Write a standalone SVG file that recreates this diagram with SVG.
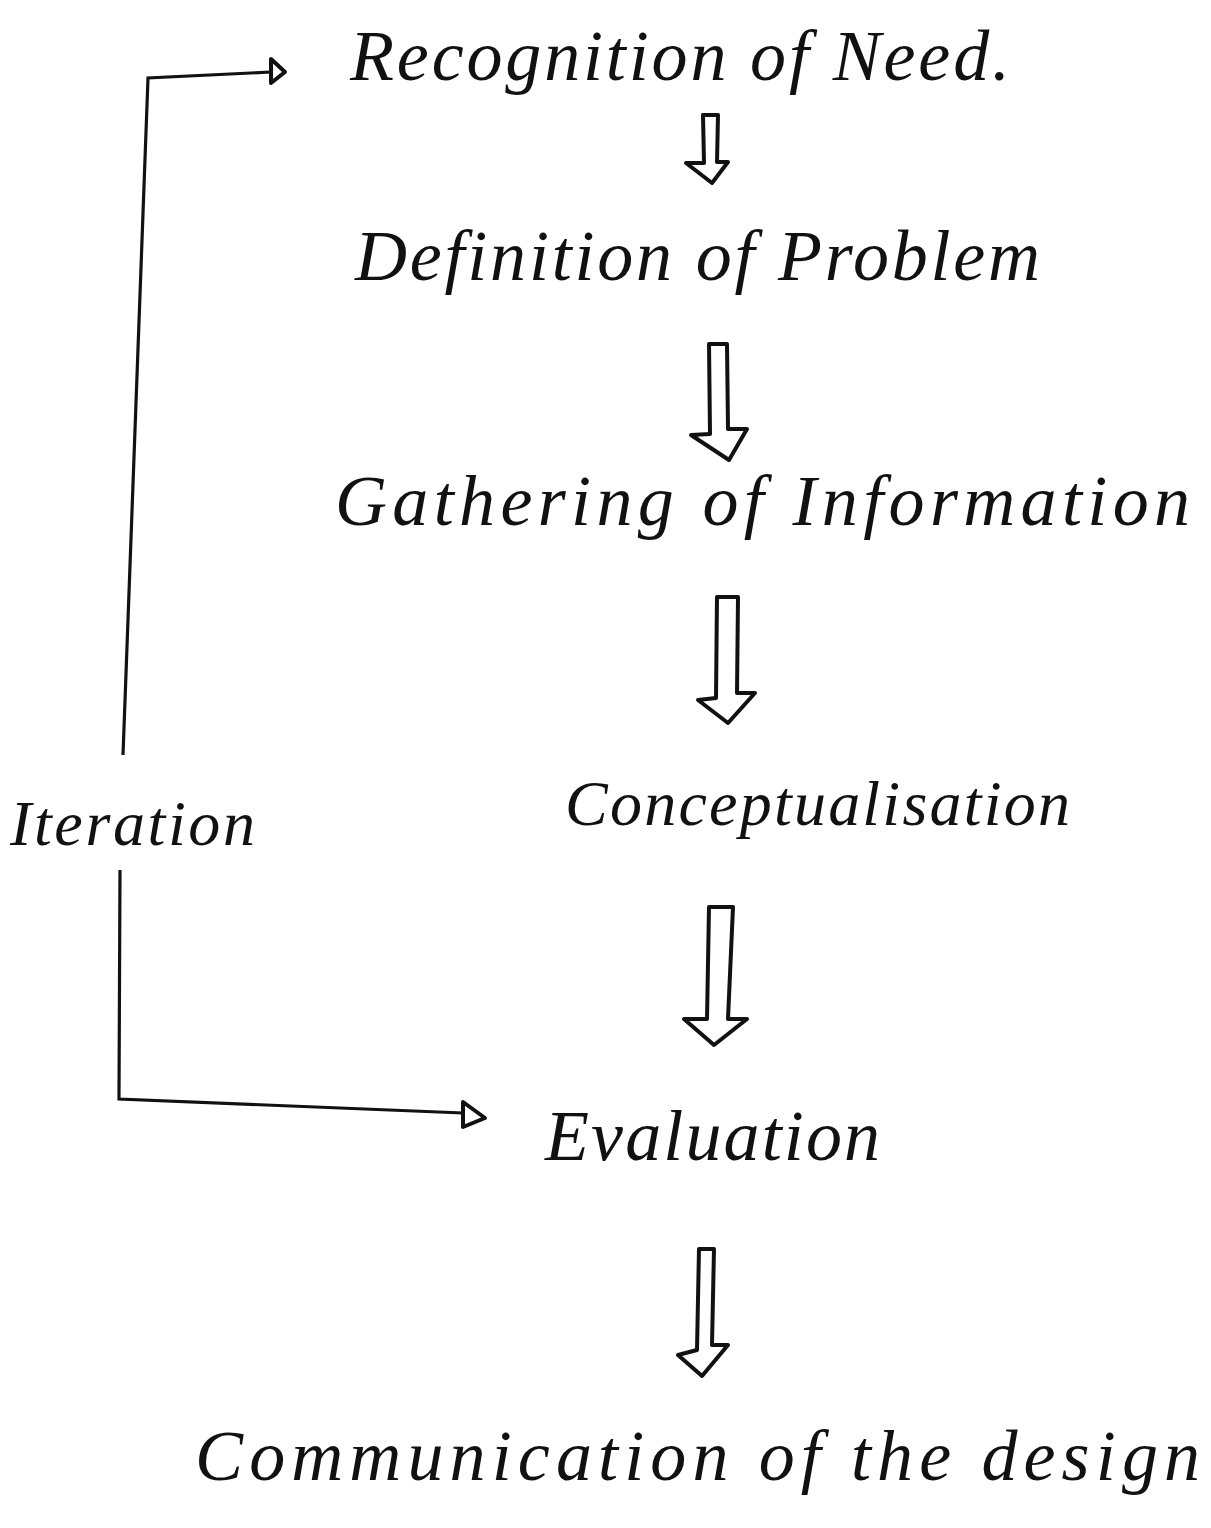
<svg xmlns="http://www.w3.org/2000/svg" width="1211" height="1528" viewBox="0 0 1211 1528">
<style>
.t{font-family:"Liberation Serif","DejaVu Serif",serif;font-style:italic;font-size:72px;fill:#111}
.s{font-size:64px}
.blk{fill:#fff;stroke:#111;stroke-width:4;stroke-linejoin:round}
.ln{fill:none;stroke:#111;stroke-width:3.2}
.hd{fill:#fff;stroke:#111;stroke-width:4;stroke-linejoin:round}
</style>
<rect width="1211" height="1528" fill="#fff"/>
<g id="connectors">
<path class="blk" d="M703 115 L718 115 L717 162 L728 162 L712 183 L686 163 L704 163 Z"/>
<path class="blk" d="M709 344 L727 344 L728 429 L747 429 L729 460 L691 435 L710 434 Z"/>
<path class="blk" d="M717 597 L738 597 L737 693 L755 693 L728 723 L698 700 L716 698 Z"/>
<path class="blk" d="M709 907 L733 907 L728 1019 L747 1019 L714 1045 L684 1019 L707 1019 Z"/>
<path class="blk" d="M699 1249 L714 1249 L712 1345 L728 1345 L702 1376 L678 1355 L697 1350 Z"/>
<path class="ln" d="M123 755 L148 78 L271 72"/>
<path class="hd" d="M271 59 L285 72 L271 83 Z"/>
<path class="ln" d="M120 870 L119 1099 L463 1113"/>
<path class="hd" d="M463 1102 L485 1118 L463 1127 Z"/>
</g>
<g id="recognition"><text class="t" x="350" y="80" textLength="660" lengthAdjust="spacing">Recognition of Need.</text></g>
<g id="definition"><text class="t" x="355" y="280" textLength="685" lengthAdjust="spacing">Definition of Problem</text></g>
<g id="gathering"><text class="t" x="335" y="525" textLength="855" lengthAdjust="spacing">Gathering of Information</text></g>
<g id="conceptualisation"><text class="t s" x="565" y="825" textLength="505" lengthAdjust="spacing">Conceptualisation</text></g>
<g id="iteration"><text class="t s" x="10" y="845" textLength="245" lengthAdjust="spacing">Iteration</text></g>
<g id="evaluation"><text class="t" x="545" y="1160" textLength="335" lengthAdjust="spacing">Evaluation</text></g>
<g id="communication"><text class="t" x="195" y="1480" textLength="1005" lengthAdjust="spacing">Communication of the design</text></g>
</svg>
